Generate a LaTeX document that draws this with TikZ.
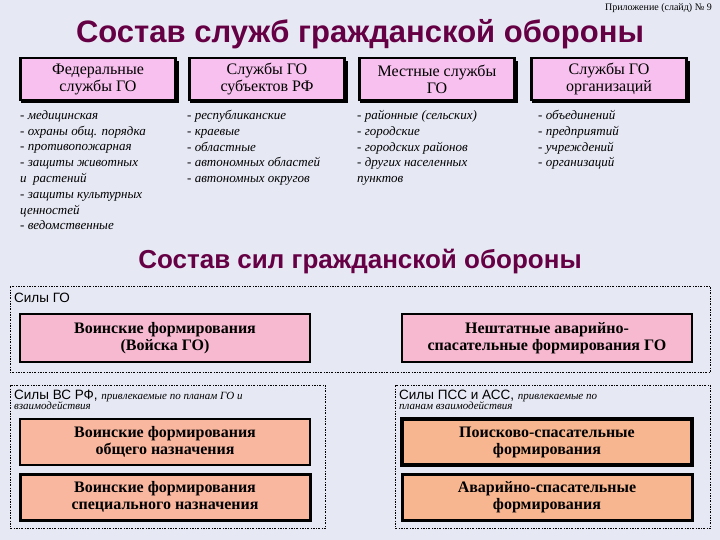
\documentclass[tikz,border=0pt]{standalone}
\usepackage{fontspec}
\setmainfont{Liberation Serif}
\newfontfamily\lsans{Liberation Sans}
\newfontfamily\lserif{Liberation Serif}
\begin{document}
\begin{tikzpicture}[x=1pt,y=-1pt,
 hbox/.style={draw=black,line width=2.5pt,fill=hpink,minimum width=155pt,minimum height=42pt,align=center,font=\lserif\fontsize{16}{17}\selectfont,inner sep=1pt},
 fbox/.style={draw=black,line width=2pt,fill=#1,minimum width=290pt,minimum height=46pt,align=center,font=\lserif\fontsize{16}{17}\selectfont\bfseries,inner sep=1pt},
 lst/.style={anchor=north west,align=left,font=\lserif\fontsize{13}{15.8}\selectfont\itshape,inner sep=0pt},
 dbox/.style={draw=black,dash pattern=on 2pt off 1.5pt on 0.5pt off 1.5pt,line width=0.5pt},
 lbl/.style={anchor=north west,inner sep=0pt,align=left,font=\lsans\fontsize{13.5}{11}\selectfont}]
\definecolor{bg}{HTML}{E6E8F4}
\definecolor{hpink}{HTML}{F7C0EE}
\definecolor{pk}{HTML}{F7B9D0}
\definecolor{sal}{HTML}{F9B7A0}
\definecolor{org}{HTML}{F8B690}
\definecolor{ttl}{HTML}{660044}
\fill[bg] (0,0) rectangle (720,540);
\useasboundingbox (0,0) rectangle (720,540);
\node[anchor=north east,font=\lserif\fontsize{10}{10}\selectfont,inner sep=0pt] (app) at (712,3) {Приложение (слайд) № 9};
\node[font=\lsans\bfseries\fontsize{31}{31}\selectfont,text=ttl] (t1) at (360,34) {Состав служб гражданской обороны};
\foreach \x in {98,267,437,609}{\fill[black] (\x-77,61) rectangle (\x+81,103);}
\node[hbox] (h1) at (98,79) {\lserif Федеральные\\\lserif службы ГО};
\node[hbox] (h2) at (267,79) {\lserif Службы ГО\\\lserif субъектов РФ};
\node[hbox] (h3) at (437,79) {\lserif Местные службы\\\lserif ГО};
\node[hbox] (h4) at (609,79) {\lserif Службы ГО\\\lserif организаций};
\node[lst] (l1) at (20,110) {- медицинская\\- охраны общ. порядка\\- противопожарная\\- защиты животных\\и~~растений\\- защиты культурных\\ценностей\\- ведомственные};
\node[lst] (l2) at (187,110) {- республиканские\\- краевые\\- областные\\- автономных областей\\- автономных округов};
\node[lst] (l3) at (357,110) {- районные (сельских)\\- городские\\- городских районов\\- других населенных\\пунктов};
\node[lst] (l4) at (538,110) {- объединений\\- предприятий\\- учреждений\\- организаций};
\node[font=\lsans\bfseries\fontsize{26}{26}\selectfont,text=ttl] (t2) at (360,262) {Состав сил гражданской обороны};
\draw[dbox] (10,286) rectangle (710,372);
\draw[dbox] (10,385) rectangle (325,528);
\draw[dbox] (395,385) rectangle (710,528);
\node[lbl] (s1) at (14,293) {Силы ГО};
\node[lbl] (s2) at (14,390) {Силы ВС РФ, {\lserif\itshape\fontsize{11}{11}\selectfont привлекаемые по планам ГО и}\\[-1pt]{\lserif\itshape\fontsize{11}{11}\selectfont взаимодействия}};
\node[lbl] (s3) at (399,390) {Силы ПСС и АСС, {\lserif\itshape\fontsize{11}{11}\selectfont привлекаемые по}\\[-1pt]{\lserif\itshape\fontsize{11}{11}\selectfont планам взаимодействия}};
\node[fbox=pk,minimum height=48pt] (b1) at (165,338) {Воинские формирования\\(Войска ГО)};
\node[fbox=pk,minimum height=48pt,line width=2.5pt] (b2) at (547,338) {Нештатные аварийно-\\спасательные формирования ГО};
\node[fbox=sal] (b3) at (165,442) {Воинские формирования\\общего назначения};
\node[fbox=sal,line width=3pt] (b4) at (165,497) {Воинские формирования\\специального назначения};
\node[fbox=org,line width=3.5pt] (b5) at (547,442) {Поисково-спасательные\\формирования};
\node[fbox=org,line width=3pt] (b6) at (547,497) {Аварийно-спасательные\\формирования};
\end{tikzpicture}
\end{document}
